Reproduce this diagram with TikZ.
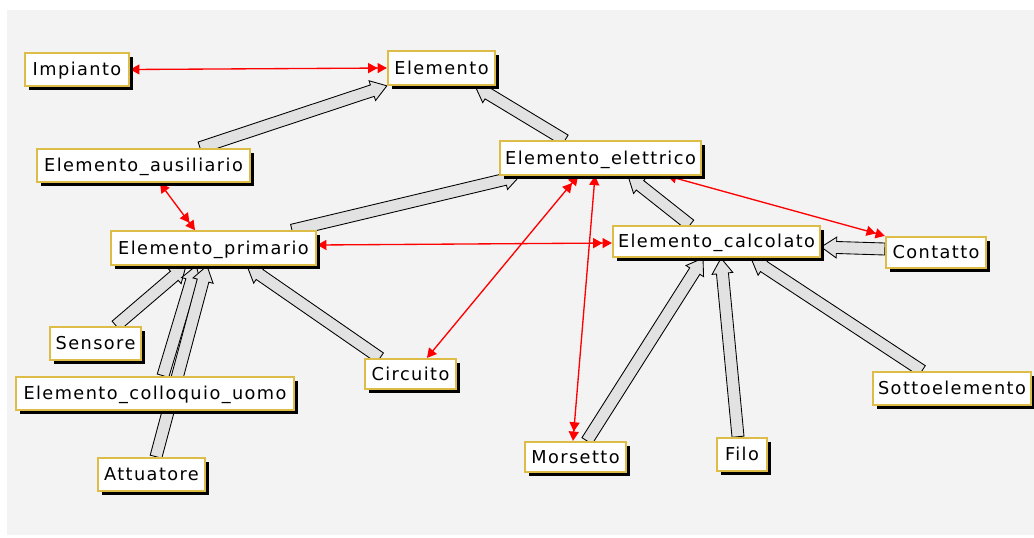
\documentclass[tikz,border=0pt]{standalone}
\usepackage{fontspec}
\newfontfamily\nodefont{DejaVu Sans}[LetterSpace=8]
\usetikzlibrary{calc,arrows.meta,shadows,positioning}
\definecolor{gold}{RGB}{222,188,72}
\definecolor{bgray}{RGB}{243,243,243}
\definecolor{band}{RGB}{226,226,226}
\pgfdeclarelayer{back}
\pgfdeclarelayer{edges}
\pgfsetlayers{back,edges,main}
\newcommand\inharrow[2]{%
  \coordinate (iS) at #1;
  \coordinate (iE) at #2;
  \coordinate (iH) at ($(iE)!11.5pt!(iS)$);
  \filldraw[inhstyle] ($(iS)!4.5pt!90:(iE)$) -- ($(iH)!4.5pt!-90:(iS)$) -- ($(iH)!7.8pt!-90:(iS)$) -- (iE) -- ($(iH)!7.8pt!90:(iS)$) -- ($(iH)!4.5pt!90:(iS)$) -- ($(iS)!4.5pt!-90:(iE)$) -- cycle;
}
\tikzset{
  cls/.style={draw=gold, fill=white, line width=1.7pt, inner sep=0pt,
    minimum height=#1, text height=9.6pt, text depth=0pt,
    font=\nodefont\fontsize{13.3pt}{15pt}\selectfont,
    drop shadow={shadow xshift=2.9pt, shadow yshift=-2.9pt, fill=black, opacity=1}},
  cls/.default=25pt,
  inhstyle/.style={draw=black, fill=band, line width=0.65pt, line join=miter},
  rel/.style={draw=red, line width=1pt,
    {Triangle[length=7pt,width=7.5pt]}-{Triangle[length=7pt,width=7.5pt] Triangle[length=7pt,width=7.5pt]}}
}
\begin{document}
\begin{tikzpicture}[x=0.75pt,y=-0.75pt]
\useasboundingbox (0,0) rectangle (1034,537);
\begin{pgfonlayer}{back}
  \fill[bgray] (7,10) rectangle (1034,535);
\end{pgfonlayer}
% nodes
\node[cls, minimum width=78pt] (imp) at (77,69.5) {Impianto};
\node[cls, minimum width=80.25pt] (ele) at (441.5,68) {Elemento};
\node[cls, minimum width=159.75pt] (aus) at (143.5,165.5) {Elemento\_ausiliario};
\node[cls, minimum width=150.75pt] (ell) at (600.5,158) {Elemento\_elettrico};
\node[cls, minimum width=153.75pt] (pri) at (213.5,248) {Elemento\_primario};
\node[cls=23.25pt, minimum width=155.25pt] (cal) at (716.5,241.5) {Elemento\_calcolato};
\node[cls=23.25pt, minimum width=75pt] (con) at (936,252.5) {Contatto};
\node[cls, minimum width=68.25pt] (sen) at (95.5,343.5) {Sensore};
\node[cls, minimum width=208.5pt] (col) at (155,393.5) {Elemento\_colloquio\_uomo};
\node[cls=22.5pt, minimum width=68.25pt] (cir) at (410.5,374) {Circuito};
\node[cls, minimum width=80.25pt] (att) at (151.5,474.5) {Attuatore};
\node[cls=22.5pt, minimum width=75.75pt] (mor) at (575.5,457) {Morsetto};
\node[cls, minimum width=37.5pt] (fil) at (742,454.5) {Filo};
\node[cls, minimum width=118.5pt] (sot) at (952,388.5) {Sottoelemento};
% inheritance arrows
\begin{pgfonlayer}{edges}
  \inharrow{($(aus.north)+(56.5,0)$)}{(ele.south west)}
  \inharrow{($(ell.north)+(-35.5,0)$)}{($(ele.south)+(33.5,0)$)}
  \inharrow{($(pri.north)+(78.5,0)$)}{($(ell.south)+(-80.5,0)$)}
  \inharrow{($(cal.north)+(-26.5,0)$)}{($(ell.south)+(27.5,0)$)}
  \inharrow{($(con.west)+(0,-3.5)$)}{($(cal.east)+(0,5.5)$)}
  \inharrow{($(mor.north)+(11.5,0)$)}{($(cal.south)+(-13.5,0)$)}
  \inharrow{($(fil.north)+(-4,0)$)}{($(cal.south)+(4.5,0)$)}
  \inharrow{($(sot.north)+(-30,0)$)}{($(cal.south)+(34.5,0)$)}
  \inharrow{($(sen.north)+(20.5,0)$)}{($(pri.south)+(-27.5,0)$)}
  \inharrow{($(col.north)+(8,0)$)}{($(pri.south)+(-17.5,0)$)}
  \inharrow{($(att.north)+(4.5,0)$)}{($(pri.south)+(-6.5,0)$)}
  \inharrow{($(cir.north)+(-30.5,0)$)}{($(pri.south)+(33.5,0)$)}
  % relations
  \draw[rel] (imp.east) -- (ele.west);
  \draw[rel] ($(aus.south)+(16.5,0)$) -- ($(pri.north)+(-18.5,0)$);
  \draw[rel] ($(pri.east)+(0,-3)$) -- ($(cal.west)+(0,1.5)$);
  \draw[rel] ($(cir.north)+(16.5,0)$) -- ($(ell.south)+(-22.5,0)$);
  \draw[rel] ($(ell.south)+(-5.5,0)$) -- ($(mor.north)+(-2.5,0)$);
  \draw[rel] ($(ell.south)+(66.5,0)$) -- (con.north west);
\end{pgfonlayer}
\end{tikzpicture}
\end{document}
